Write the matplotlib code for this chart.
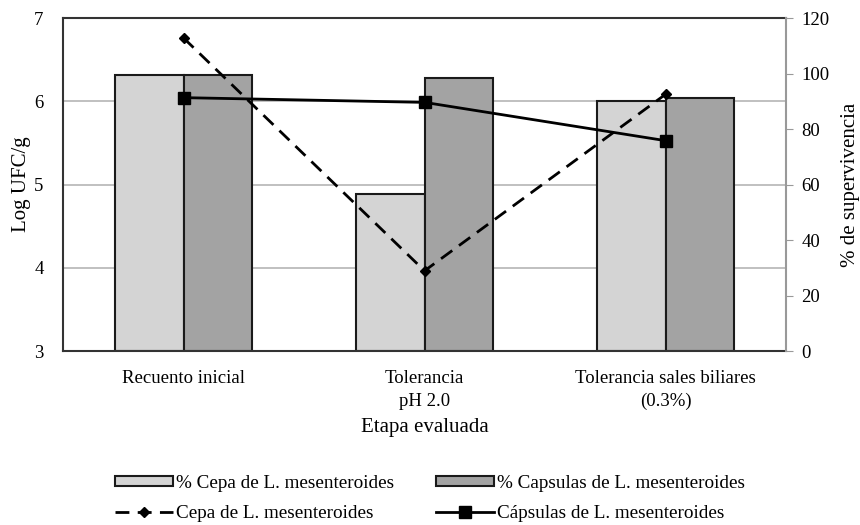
import matplotlib
matplotlib.use("Agg")
import matplotlib.pyplot as plt
import numpy as np

categories = ["Recuento inicial", "Tolerancia\npH 2.0", "Tolerancia sales biliares\n(0.3%)"]
cepa_log = [6.32, 4.89, 6.00]
capsulas_log = [6.32, 6.28, 6.04]
cepa_surv = [112.8, 28.9, 92.5]
capsulas_surv = [91.3, 89.6, 75.8]

plt.rcParams['font.family'] = ['Liberation Serif', 'DejaVu Serif']

fig = plt.figure(figsize=(8.6, 5.25), dpi=100)
ax = fig.add_axes([0.0733, 0.3314, 0.8407, 0.6343])
x = np.arange(len(categories))
w = 0.285

ax.set_axisbelow(True)
ax.yaxis.grid(True, color='#b5b5b5', linewidth=1.2)
b1 = ax.bar(x - w/2, [v - 3 for v in cepa_log], w, bottom=3, color='#d4d4d4',
            edgecolor='#1a1a1a', linewidth=1.5, label='% Cepa de L. mesenteroides', zorder=2)
b2 = ax.bar(x + w/2, [v - 3 for v in capsulas_log], w, bottom=3, color='#a3a3a3',
            edgecolor='#1a1a1a', linewidth=1.5, label='% Capsulas de L. mesenteroides', zorder=2)
ax.set_ylim(3, 7)
ax.set_yticks([3, 4, 5, 6, 7])
ax.set_xlim(-0.5, 2.5)
ax.set_xticks(x)
ax.set_xticklabels(categories, fontsize=13.5, linespacing=1.4)
ax.tick_params(axis='x', length=0, pad=14)
ax.tick_params(axis='y', length=0, pad=14, labelsize=13.5)
ax.set_ylabel('Log UFC/g', fontsize=15, labelpad=2)
ax.set_xlabel('Etapa evaluada', fontsize=15, labelpad=6)
for s in ['left', 'top', 'bottom']:
    ax.spines[s].set_color('#333333')
    ax.spines[s].set_linewidth(1.5)
ax.spines['right'].set_visible(False)

ax2 = ax.twinx()
l1, = ax2.plot(x, cepa_surv, color='black', linestyle=(0, (5, 3)), linewidth=2,
               marker='D', markersize=5, label='Cepa de L. mesenteroides', zorder=3)
l2, = ax2.plot(x, capsulas_surv, color='black', linestyle='-', linewidth=2,
               marker='s', markersize=8, label='Cápsulas de L. mesenteroides', zorder=3)
ax2.set_ylim(0, 120)
ax2.set_yticks(range(0, 121, 20))
ax2.tick_params(axis='y', direction='out', length=5, color='#999999', labelsize=13.5, pad=6)
ax2.set_ylabel('% de supervivencia', fontsize=15, labelpad=8)
for s in ['left', 'top', 'bottom']:
    ax2.spines[s].set_visible(False)
ax2.spines['right'].set_color('#999999')
ax2.spines['right'].set_linewidth(1.5)

leg = fig.legend([b1, l1, b2, l2],
                 ['% Cepa de L. mesenteroides', 'Cepa de L. mesenteroides',
                  '% Capsulas de L. mesenteroides', 'Cápsulas de L. mesenteroides'],
                 ncol=2, frameon=False, loc='center', bbox_to_anchor=(0.5, 0.050),
                 fontsize=13.8, handlelength=3.0, handleheight=0.45, handletextpad=0.15,
                 columnspacing=2.2, labelspacing=0.7)

fig.savefig('out.png', dpi=100)
